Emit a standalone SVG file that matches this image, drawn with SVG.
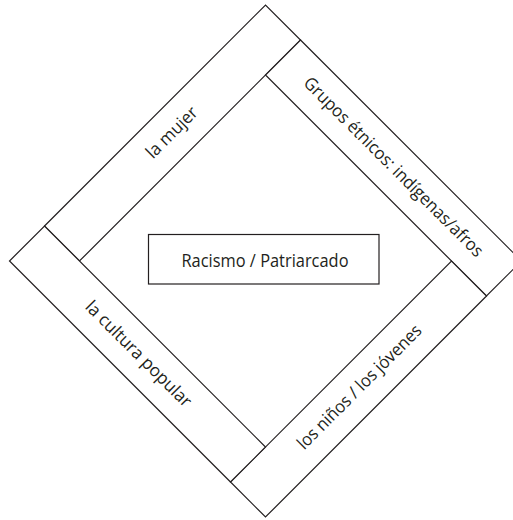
<svg xmlns="http://www.w3.org/2000/svg" width="513" height="520" viewBox="0 0 513 520">
<style>
.shape{fill:#ffffff;stroke:#231f20;stroke-width:1.2;stroke-linejoin:miter}
.lbl{font-family:"Open Sans","Liberation Sans",sans-serif;font-size:17.5px;fill:#231f20;text-anchor:middle}
</style>
<rect width="513" height="520" fill="#ffffff"/>
<g id="connectors"></g>
<g id="band-la-mujer">
<polygon class="shape" points="44.5,226 265.5,5 300.5,40 79.5,261"/>
<text class="lbl" transform="translate(172.5,133) rotate(-45)" x="0" y="5" textLength="65" lengthAdjust="spacingAndGlyphs">la mujer</text>
</g>
<g id="band-grupos-etnicos">
<polygon class="shape" points="300.5,40 521.5,261 486.5,296 265.5,75"/>
<text class="lbl" transform="translate(393,167.5) rotate(45)" x="0" y="5" textLength="246" lengthAdjust="spacingAndGlyphs">Grupos étnicos: indígenas/afros</text>
</g>
<g id="band-los-ninos">
<polygon class="shape" points="486.5,296 265.5,517 230.5,482 451.5,261"/>
<text class="lbl" transform="translate(360,387.5) rotate(-45)" x="0" y="5" textLength="168" lengthAdjust="spacingAndGlyphs">los niños / los jóvenes</text>
</g>
<g id="band-la-cultura-popular">
<polygon class="shape" points="230.5,482 9.5,261 44.5,226 265.5,447"/>
<text class="lbl" transform="translate(138,354.5) rotate(45)" x="0" y="5" textLength="142" lengthAdjust="spacingAndGlyphs">la cultura popular</text>
</g>
<g id="center-racismo-patriarcado">
<rect class="shape" x="148.5" y="234.5" width="230.5" height="49.5"/>
<text class="lbl" x="265" y="266.5" textLength="167" lengthAdjust="spacingAndGlyphs">Racismo / Patriarcado</text>
</g>
</svg>
